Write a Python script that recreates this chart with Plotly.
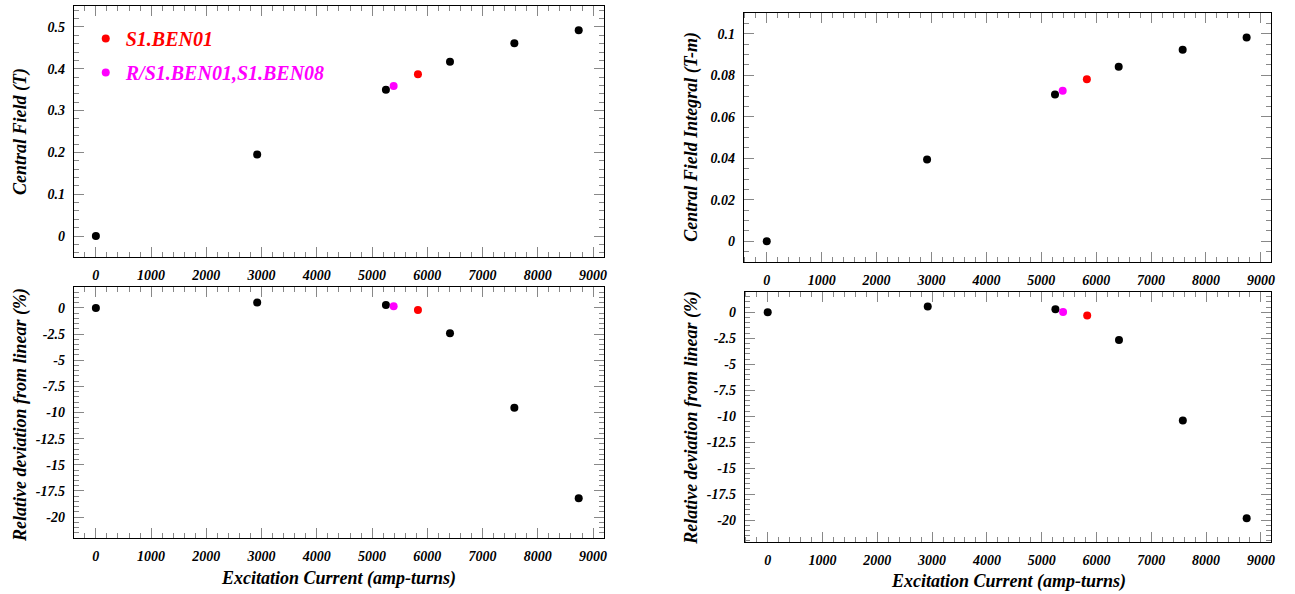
import plotly.graph_objects as go

# ---------------- data ----------------
current_main = [0, 2920, 5250, 6410, 7575, 8740]
field_main = [0.0, 0.195, 0.350, 0.417, 0.461, 0.492]
integral_main = [0.0, 0.0394, 0.0707, 0.0841, 0.0923, 0.0982]
dev_field_main = [0.0, 0.51, 0.29, -2.42, -9.54, -18.21]
dev_integral_main = [0.0, 0.55, 0.29, -2.67, -10.42, -19.81]

current_ben01 = [5830]
field_ben01 = [0.387]
integral_ben01 = [0.0781]
dev_field_ben01 = [-0.19]
dev_integral_ben01 = [-0.32]

current_ben08 = [5390]
field_ben08 = [0.359]
integral_ben08 = [0.0725]
dev_field_ben08 = [0.16]
dev_integral_ben08 = [0.03]

name_ben01 = "S1.BEN01"
name_ben08 = "R/S1.BEN01,S1.BEN08"

x_ticks = [0, 1000, 2000, 3000, 4000, 5000, 6000, 7000, 8000, 9000]
x_ticktext = ["0", "1000", "2000", "3000", "4000", "5000", "6000", "7000", "8000", "9000"]
field_ticks = [0, 0.1, 0.2, 0.3, 0.4, 0.5]
field_ticktext = ["0", "0.1", "0.2", "0.3", "0.4", "0.5"]
integral_ticks = [0, 0.02, 0.04, 0.06, 0.08, 0.1]
integral_ticktext = ["0", "0.02", "0.04", "0.06", "0.08", "0.1"]
dev_ticks = [0, -2.5, -5, -7.5, -10, -12.5, -15, -17.5, -20]
dev_ticktext = ["0", "-2.5", "-5", "-7.5", "-10", "-12.5", "-15", "-17.5", "-20"]

title_x = "Excitation Current (amp-turns)"
title_field = "Central Field (T)"
title_integral = "Central Field Integral (T-m)"
title_dev = "Relative deviation from linear (%)"

# ---------------- style ----------------
FONT = "Liberation Serif"
W, H = 1295, 594
BLACK, RED, MAGENTA = "black", "#ff0000", "#ff00ff"
MS = 8


def px_x(p):
    return p / W


def px_y(p):
    return 1 - p / H


panels = [
    ("x", "y", (74, 606), (6, 257), (-400, 9200), (-0.05, 0.55), field_ticks, field_ticktext, 0.02,
     (field_main, field_ben01, field_ben08), True),
    ("x2", "y2", (746, 1275), (13, 262), (-420, 9185), (-0.01, 0.11), integral_ticks, integral_ticktext, 0.005,
     (integral_main, integral_ben01, integral_ben08), False),
    ("x3", "y3", (74, 606), (287, 538), (-400, 9200), (-22, 2), dev_ticks, dev_ticktext, 0.5,
     (dev_field_main, dev_field_ben01, dev_field_ben08), False),
    ("x4", "y4", (747, 1275), (292, 542), (-420, 9185), (-22.1, 1.95), dev_ticks, dev_ticktext, 0.5,
     (dev_integral_main, dev_integral_ben01, dev_integral_ben08), False),
]

fig = go.Figure()
layout = {}
tickfont = dict(family=FONT, size=14, color="black", weight="bold", style="italic")

for xa, ya, xd, yd, xr, yr, yt, ytt, ymin, ys, sl in panels:
    ymain, yben01, yben08 = ys
    fig.add_trace(go.Scatter(x=current_main, y=ymain, xaxis=xa, yaxis=ya, mode="markers",
                             marker=dict(color=BLACK, size=MS), showlegend=False))
    fig.add_trace(go.Scatter(x=current_ben01, y=yben01, xaxis=xa, yaxis=ya, mode="markers",
                             marker=dict(color=RED, size=MS), showlegend=sl, legendgroup="a",
                             name='<span style="color:#ff0000">' + name_ben01 + "</span>"))
    fig.add_trace(go.Scatter(x=current_ben08, y=yben08, xaxis=xa, yaxis=ya, mode="markers",
                             marker=dict(color=MAGENTA, size=MS), showlegend=sl, legendgroup="b",
                             name='<span style="color:#ff00ff">' + name_ben08 + "</span>"))
    xkey = "xaxis" + xa[1:]
    ykey = "yaxis" + ya[1:]
    common = dict(showline=True, linecolor="black", linewidth=1, mirror="allticks",
                  ticks="inside", ticklen=10, tickcolor="#888", tickwidth=1,
                  showgrid=False, zeroline=False, tickfont=tickfont, ticklabelstandoff=5)
    layout[xkey] = dict(common, domain=[px_x(xd[0]), px_x(xd[1])], range=list(xr), anchor=ya,
                        tickvals=x_ticks, ticktext=x_ticktext,
                        minor=dict(ticks="inside", ticklen=5, tickcolor="#888", dtick=200, tick0=0,
                                   showgrid=False))
    layout[ykey] = dict(common, domain=[px_y(yd[1]), px_y(yd[0])], range=list(yr), anchor=xa,
                        tickvals=yt, ticktext=ytt,
                        minor=dict(ticks="inside", ticklen=5, tickcolor="#888", dtick=ymin, tick0=0,
                                   showgrid=False))

titlefont = dict(family=FONT, size=18, color="black", weight="bold", style="italic")
annotations = [
    dict(text=title_x, x=px_x(340), y=px_y(578), xref="paper", yref="paper", showarrow=False, font=titlefont,
         xanchor="center", yanchor="middle"),
    dict(text=title_x, x=px_x(1012), y=px_y(581), xref="paper", yref="paper", showarrow=False, font=titlefont,
         xanchor="center", yanchor="middle"),
    dict(text=title_field, x=px_x(20), y=px_y(131), xref="paper", yref="paper", showarrow=False, font=titlefont,
         textangle=-90, xanchor="center", yanchor="middle"),
    dict(text=title_integral, x=px_x(693), y=px_y(137), xref="paper", yref="paper", showarrow=False, font=titlefont,
         textangle=-90, xanchor="center", yanchor="middle"),
    dict(text=title_dev, x=px_x(20), y=px_y(415), xref="paper", yref="paper", showarrow=False, font=titlefont,
         textangle=-90, xanchor="center", yanchor="middle"),
    dict(text=title_dev, x=px_x(693), y=px_y(418), xref="paper", yref="paper", showarrow=False, font=titlefont,
         textangle=-90, xanchor="center", yanchor="middle"),
]

fig.update_layout(
    width=W, height=H,
    margin=dict(l=0, r=0, t=0, b=0),
    paper_bgcolor="white", plot_bgcolor="white",
    annotations=annotations,
    legend=dict(x=px_x(86), y=px_y(19), xanchor="left", yanchor="top",
                font=dict(family=FONT, size=20, weight="bold", style="italic", color="black"),
                bgcolor="rgba(0,0,0,0)", borderwidth=0, tracegroupgap=5, traceorder="grouped",
                itemwidth=30),
    **layout,
)

fig.write_html("out.html")
